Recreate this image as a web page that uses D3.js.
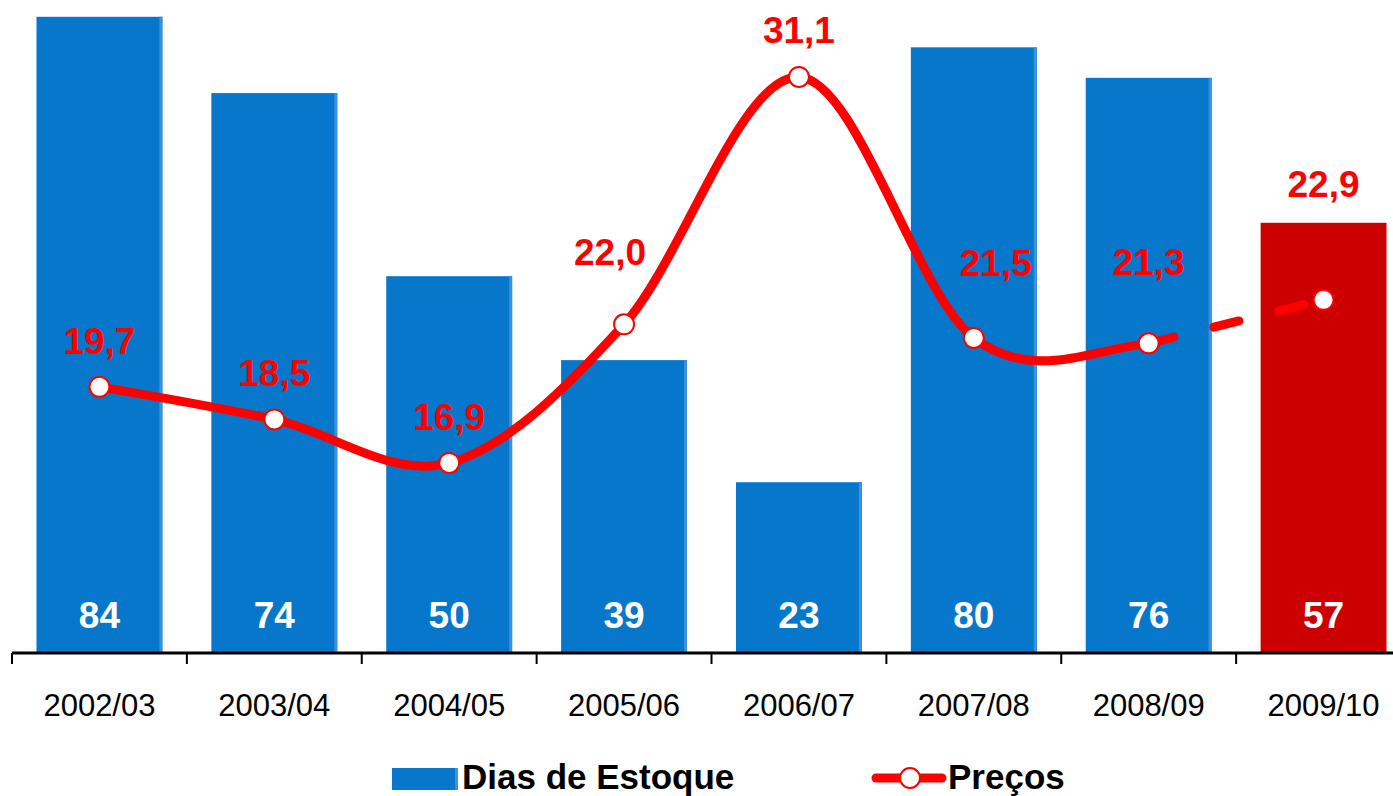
<!DOCTYPE html>
<html>
<head>
<meta charset="utf-8">
<script src="https://cdn.jsdelivr.net/npm/d3@7"></script>
<style>
  html, body { margin: 0; padding: 0; background: #ffffff; }
  svg { display: block; font-family: "Liberation Sans", Arial, sans-serif; }
</style>
</head>
<body>
<svg id="chart" width="1393" height="796"></svg>
<script>
// ---- data ----
const categories = ["2002/03", "2003/04", "2004/05", "2005/06", "2006/07", "2007/08", "2008/09", "2009/10"];
const diasEstoque = [84, 74, 50, 39, 23, 80, 76, 57];
const precos = [19.7, 18.5, 16.9, 22.0, 31.1, 21.5, 21.3, 22.9];
const barLabels = ["84", "74", "50", "39", "23", "80", "76", "57"];
const precoLabels = ["19,7", "18,5", "16,9", "22,0", "31,1", "21,5", "21,3", "22,9"];
const seriesNames = ["Dias de Estoque", "Preços"];

// ---- layout ----
const W = 1393, H = 796;
const axisY = 653;
const svg = d3.select("#chart");

const x = d3.scaleBand().domain(categories).range([12, 1411]).paddingInner(0.28).paddingOuter(0.14);
const yBar = d3.scaleLinear().domain([0, 86.2]).range([657.7, 0]);
const yLine = d3.scaleLinear().domain([15, 32]).range([514.6, 52.5]);

const blue = "#0777CC", blueEdge = "#3A93DA";
const dark = "#CC0000", lineRed = "#FF0000";
const lastIdx = categories.length - 1;

// bars
const bars = svg.append("g");
categories.forEach((c, i) => {
  const x0 = x(c), bw = x.bandwidth();
  const y0 = yBar(diasEstoque[i]);
  const isLast = i === lastIdx;
  bars.append("rect").attr("x", x0).attr("y", y0).attr("width", bw).attr("height", axisY - y0)
    .attr("fill", isLast ? dark : blue);
  if (!isLast) {
    bars.append("rect").attr("x", x0 + bw - 3).attr("y", y0).attr("width", 3).attr("height", axisY - y0)
      .attr("fill", blueEdge);
  }
  bars.append("text").attr("x", x0 + bw / 2).attr("y", 628).attr("text-anchor", "middle")
    .attr("font-size", 37).attr("font-weight", "bold").attr("fill", "#ffffff").text(barLabels[i]);
});

// axis
const axis = d3.axisBottom(x).tickSize(0).tickFormat("");
const ag = svg.append("g").attr("transform", `translate(0,${axisY})`).call(axis);
ag.select(".domain").remove();
svg.append("line").attr("x1", 12).attr("x2", W).attr("y1", axisY).attr("y2", axisY)
  .attr("stroke", "#000").attr("stroke-width", 3);
const step = x.step();
categories.forEach((c, i) => {
  const tx = x(c) - x.paddingInner() * step / 2;
  svg.append("line").attr("x1", tx).attr("x2", tx).attr("y1", axisY).attr("y2", axisY + 11)
    .attr("stroke", "#000").attr("stroke-width", 2);
  svg.append("text").attr("x", x(c) + x.bandwidth() / 2).attr("y", 716).attr("text-anchor", "middle")
    .attr("font-size", 31).attr("fill", "#000").text(c);
});

// line
const pts = precos.map((v, i) => [x(categories[i]) + x.bandwidth() / 2, yLine(v)]);
const lineGen = d3.line().curve(d3.curveCardinal.tension(0));
const fullPath = lineGen(pts);
const defs = svg.append("defs");
const splitX = pts[lastIdx - 1][0];
defs.append("clipPath").attr("id", "solidClip").append("rect").attr("x", 0).attr("y", 0).attr("width", splitX).attr("height", H);

svg.append("path").attr("d", fullPath).attr("fill", "none").attr("stroke", lineRed)
  .attr("stroke-width", 9).attr("stroke-linecap", "round").attr("clip-path", "url(#solidClip)");
svg.append("path").attr("d", lineGen(pts.slice(lastIdx - 1))).attr("fill", "none").attr("stroke", lineRed)
  .attr("stroke-width", 9).attr("stroke-linecap", "round").attr("stroke-dasharray", "26,41");

// markers
svg.append("g").selectAll("circle").data(pts).join("circle")
  .attr("cx", d => d[0]).attr("cy", d => d[1]).attr("r", 10)
  .attr("fill", "#fff").attr("stroke", lineRed).attr("stroke-width", 2);

// price labels
const lift = [33, 33, 33, 59, 34, 62, 68, 103];
const shift = [0, 0, 0, -14, 0, 22, 0, 0];
pts.forEach((p, i) => {
  svg.append("text").attr("x", p[0] + shift[i]).attr("y", p[1] - lift[i]).attr("text-anchor", "middle")
    .attr("font-size", 37).attr("font-weight", "bold").attr("fill", lineRed).text(precoLabels[i]);
});

// legend
const lg = svg.append("g");
lg.append("rect").attr("x", 392).attr("y", 768).attr("width", 66).attr("height", 22).attr("fill", blue);
lg.append("rect").attr("x", 455).attr("y", 768).attr("width", 3).attr("height", 22).attr("fill", blueEdge);
lg.append("text").attr("x", 462).attr("y", 789).attr("font-size", 35).attr("font-weight", "bold")
  .attr("fill", "#000").text(seriesNames[0]);
lg.append("line").attr("x1", 876).attr("x2", 942).attr("y1", 778).attr("y2", 778)
  .attr("stroke", lineRed).attr("stroke-width", 9).attr("stroke-linecap", "round");
lg.append("circle").attr("cx", 910).attr("cy", 778).attr("r", 10).attr("fill", "#fff")
  .attr("stroke", lineRed).attr("stroke-width", 2);
lg.append("text").attr("x", 948).attr("y", 789).attr("font-size", 35).attr("font-weight", "bold")
  .attr("fill", "#000").text(seriesNames[1]);
</script>
</body>
</html>
